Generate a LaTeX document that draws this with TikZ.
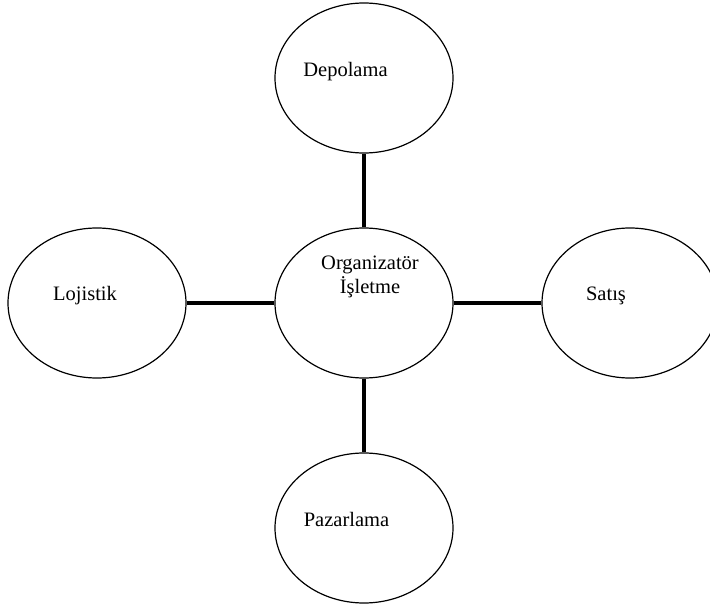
\documentclass[tikz,border=0pt]{standalone}
\usepackage{fontspec}
\setmainfont{Liberation Serif}
\usetikzlibrary{shapes.geometric}
\begin{document}
\begin{tikzpicture}[x=1pt, y=-1pt, font=\fontsize{20.5}{24}\selectfont,
    bubble/.style={draw, ellipse, minimum width=178pt, minimum height=150pt, inner sep=0pt, line width=1.2pt},
    link/.style={line width=4.5pt},
    tag/.style={anchor=base, inner sep=0pt}]
  \useasboundingbox (0,0) rectangle (710,604);
  % the five bubbles
  \node[bubble] (org) at (364,303) {};
  \node[bubble] (dep) at (364,78) {};
  \node[bubble] (loj) at (97,303) {};
  \node[bubble, minimum width=176pt] (sat) at (630,303) {};
  \node[bubble] (paz) at (364,528) {};
  % labels
  \node[align=center, inner sep=0pt] (orgT) at (370,277) {Organizatör\\İşletme};
  \node[tag] (depT) at (345.5,77) {Depolama};
  \node[tag] (lojT) at (85,301) {Lojistik};
  \node[tag] (satT) at (606,301) {Satış};
  \node[tag] (pazT) at (346.5,526) {Pazarlama};
  % links
  \foreach \n in {dep,loj,sat,paz}
    \draw[link] (org) -- (\n);
\end{tikzpicture}
\end{document}
